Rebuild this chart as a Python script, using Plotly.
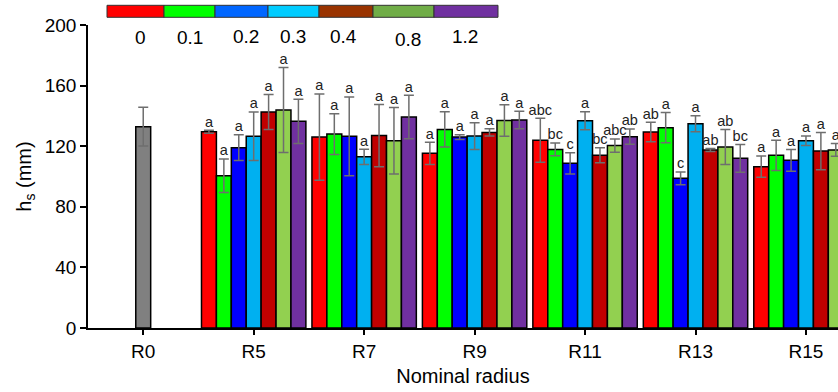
import plotly.graph_objects as go

categories = ["R0", "R5", "R7", "R9", "R11", "R13", "R15"]
doses = ["0", "0.1", "0.2", "0.3", "0.4", "0.8", "1.2"]

control_mean = [132.9]
control_err = [12.8]

# rows: dose; columns: R5, R7, R9, R11, R13, R15
means = [
    [129.6, 126.0, 115.3, 123.9, 129.4, 106.5],
    [100.5, 128.0, 131.1, 117.9, 132.2, 114.0],
    [119.0, 126.5, 126.0, 108.7, 98.8, 110.7],
    [126.5, 113.0, 126.7, 136.8, 134.8, 123.6],
    [142.6, 127.0, 129.1, 114.0, 117.5, 116.8],
    [143.9, 123.6, 137.0, 120.4, 119.5, 117.5],
    [136.4, 139.3, 137.3, 126.3, 112.0, 113.0],
]
errors = [
    [1.0, 28.4, 7.3, 14.5, 6.4, 7.0],
    [11.0, 13.4, 11.7, 4.2, 10.0, 10.0],
    [8.5, 26.0, 1.5, 7.0, 4.2, 7.2],
    [16.0, 5.0, 8.8, 6.0, 5.3, 3.1],
    [11.5, 20.5, 2.4, 5.0, 1.0, 12.3],
    [28.0, 22.0, 10.4, 4.4, 11.6, 4.2],
    [14.6, 14.3, 5.7, 5.0, 9.2, 5.0],
]
letters = [
    ["a", "a", "a", "abc", "ab", "a"],
    ["a", "a", "a", "bc", "a", "a"],
    ["a", "a", "a", "c", "c", "a"],
    ["a", "a", "a", "a", "a", "a"],
    ["a", "a", "a", "bc", "ab", "a"],
    ["a", "a", "a", "abc", "ab", "a"],
    ["a", "a", "a", "ab", "bc", "a"],
]

bar_colors = ["#ff0000", "#00ff00", "#0000ff", "#00b0f0", "#c00000", "#92d050", "#7030a0"]
legend_colors = ["#ff0000", "#00ff00", "#0066ff", "#00ccff", "#993300", "#70ad47", "#7030a0"]
control_color = "#808080"

FONT = "Liberation Sans, Arial, sans-serif"
BW = 0.135
ERR_COLOR = "#6e6e6e"

fig = go.Figure()

fig.add_trace(go.Bar(
    x=[0], y=control_mean, width=BW, offset=-BW / 2,
    marker=dict(color=control_color, line=dict(color="black", width=1.5)),
    error_y=dict(type="data", array=control_err, color=ERR_COLOR, thickness=1.5, width=5),
    showlegend=False,
))

group_x = list(range(1, len(categories)))
n = len(doses)
for i in range(n):
    off = -n * BW / 2 + i * BW
    fig.add_trace(go.Bar(
        x=group_x, y=means[i], width=BW, offset=off,
        marker=dict(color=bar_colors[i], line=dict(color="black", width=1.5)),
        error_y=dict(type="data", array=errors[i], color=ERR_COLOR, thickness=1.5, width=5),
        showlegend=False,
    ))
    fig.add_trace(go.Scatter(
        x=[g + off + BW / 2 for g in group_x],
        y=[m + e for m, e in zip(means[i], errors[i])],
        mode="text", text=letters[i], textposition="top center",
        textfont=dict(family=FONT, size=14.5, color="#222222"),
        showlegend=False, hoverinfo="skip",
    ))

# custom legend strip (pixel positions of the reference's legend)
W, H = 838, 392
L, T, B = 88, 25, 64
PW, PH = W - L, H - T - B
edges = [107, 164, 215, 268, 319, 373, 434, 498]
label_x = [140, 190, 246, 293, 343, 408, 465]
label_y = [37, 37, 36, 36, 36, 39, 36]
for i, lab in enumerate(doses):
    fig.add_shape(type="rect", xref="paper", yref="paper",
                  x0=(edges[i] - L) / PW, x1=(edges[i + 1] - L) / PW,
                  y0=(H - B - 17.3) / PH, y1=(H - B - 5.3) / PH,
                  fillcolor=legend_colors[i], line=dict(color="#333333", width=1))
    fig.add_annotation(xref="paper", yref="paper",
                       x=(label_x[i] - L) / PW,
                       y=(H - B - label_y[i]) / PH,
                       text=lab, showarrow=False, yanchor="middle", xanchor="center",
                       font=dict(family=FONT, size=19, color="black"))

fig.update_layout(
    width=W, height=H,
    margin=dict(l=L, r=0, t=T, b=B),
    paper_bgcolor="white", plot_bgcolor="white",
    barmode="overlay",
    font=dict(family=FONT, size=19, color="black"),
    xaxis=dict(
        range=[-0.5, 6.29], tickmode="array",
        tickvals=list(range(len(categories))), ticktext=categories,
        showline=True, linecolor="black", linewidth=1.5,
        ticks="outside", ticklen=5, tickcolor="black", tickwidth=1.5,
        tickfont=dict(size=19),
        showgrid=False, zeroline=False,
        title=dict(text="Nominal radius", standoff=8, font=dict(size=20)),
    ),
    yaxis=dict(
        range=[0, 200], tickvals=[0, 40, 80, 120, 160, 200],
        showline=True, linecolor="black", linewidth=1.5,
        ticks="outside", ticklen=6, tickcolor="black", tickwidth=1.5,
        tickfont=dict(size=19),
        showgrid=False, zeroline=False,
        title=dict(text="h<sub>s</sub> (mm)", standoff=8, font=dict(size=20)),
    ),
)

fig.write_html("out.html")
